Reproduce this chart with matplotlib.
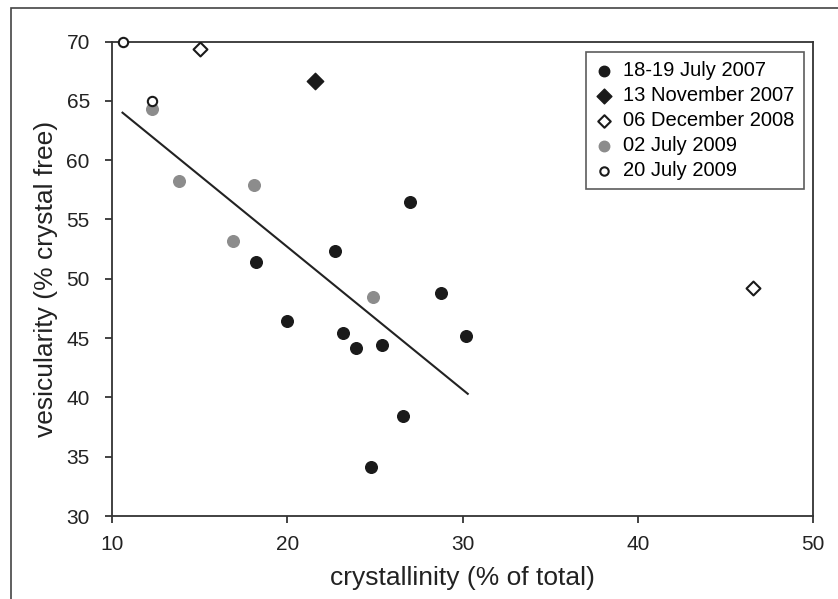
import matplotlib
matplotlib.use("Agg")
import matplotlib.pyplot as plt
from matplotlib.patches import Rectangle

plt.rcParams['font.family'] = ['Liberation Sans', 'DejaVu Sans']

# 18-19 July 2007
jul07_x = [18.2, 22.7, 27.0, 20.0, 23.2, 23.9, 25.4, 28.8, 30.2, 26.6, 24.8]
jul07_y = [51.4, 52.3, 56.5, 46.4, 45.4, 44.2, 44.4, 48.8, 45.2, 38.4, 34.1]
# 13 November 2007
nov07_x = [21.6]
nov07_y = [66.7]
# 06 December 2008
dec08_x = [15.0, 46.6]
dec08_y = [69.4, 49.2]
# 02 July 2009
jul09a_x = [12.3, 13.8, 18.1, 16.9, 24.9]
jul09a_y = [64.3, 58.2, 57.9, 53.2, 48.5]
# 20 July 2009
jul09b_x = [10.6, 12.3]
jul09b_y = [70.0, 65.0]
# trend line
fit_x = [10.6, 30.3]
fit_y = [64.0, 40.3]

fig = plt.figure(figsize=(8.38, 5.99), dpi=100)
ax = fig.add_axes([112/838, 1 - 516/599, (813 - 112)/838, (516 - 41.5)/599])

# outer frame of the original figure
fig.patches.append(Rectangle((11/838, -0.1), 1.2, 1 - 8/599 + 0.1, transform=fig.transFigure,
                             fill=False, edgecolor='#444444', lw=1.2))

ax.plot(fit_x, fit_y, color='#222222', lw=1.5, zorder=2)
ax.scatter(jul07_x, jul07_y, s=70, color='#1a1a1a', marker='o', label='18-19 July 2007', zorder=3)
ax.scatter(nov07_x, nov07_y, s=70, color='#1a1a1a', marker='D', label='13 November 2007', zorder=3)
ax.scatter(dec08_x, dec08_y, s=50, facecolor='white', edgecolor='#1a1a1a', lw=1.5, marker='D',
           label='06 December 2008', zorder=3)
ax.scatter(jul09a_x, jul09a_y, s=70, color='#8c8c8c', marker='o', label='02 July 2009', zorder=3)
ax.scatter(jul09b_x, jul09b_y, s=45, facecolor='white', edgecolor='#1a1a1a', lw=1.5, marker='o',
           label='20 July 2009', zorder=4, clip_on=False)

ax.set_xlim(10, 50)
ax.set_ylim(30, 70)
ax.set_xticks(range(10, 51, 10))
ax.set_yticks(range(30, 71, 5))
ax.tick_params(labelsize=15, length=5, width=1.2, colors='#222222')
ax.tick_params(axis='x', pad=9)
ax.tick_params(axis='y', pad=11)
for s in ax.spines.values():
    s.set_linewidth(1.3)
    s.set_color('#333333')

ax.set_xlabel('crystallinity (% of total)', fontsize=19, color='#222222', labelpad=8)
ax.set_ylabel('vesicularity (% crystal free)', fontsize=19, color='#222222', labelpad=6)

leg = ax.legend(loc='upper right', bbox_to_anchor=(0.987, 0.978), borderaxespad=0, fontsize=14.5,
                frameon=True, fancybox=False, edgecolor='#333333', handletextpad=0.5,
                labelspacing=0.3, borderpad=0.45, handlelength=0.9, markerscale=0.9)
leg.get_frame().set_linewidth(1.2)

plt.savefig('out.png', dpi=100)
